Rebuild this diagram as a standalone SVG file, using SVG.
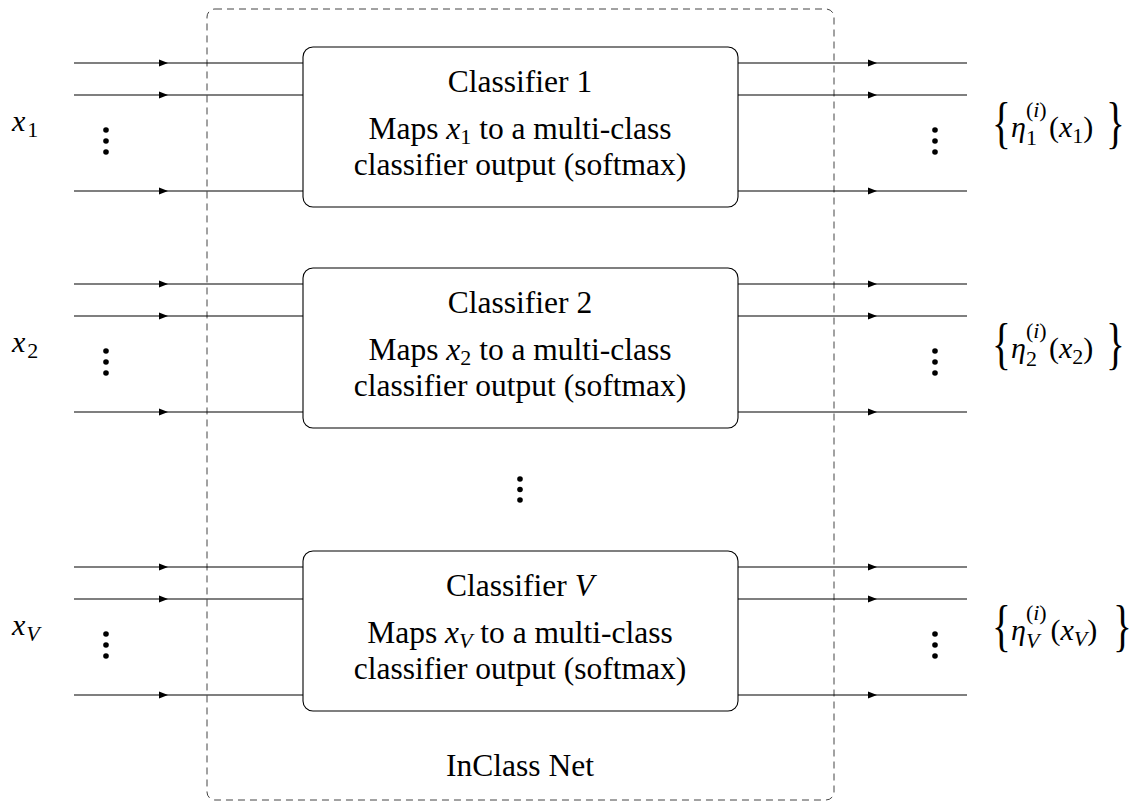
<svg xmlns="http://www.w3.org/2000/svg" xmlns:xlink="http://www.w3.org/1999/xlink" width="1136" height="805" viewBox="0 0 1136 805">
<defs>
<style>
.ln{fill:none;stroke:#000;stroke-width:1.1}
.box{fill:#fff;stroke:#000;stroke-width:1.1}
.dot{fill:#000}
.tx{font-family:"Liberation Serif","Times New Roman",serif;fill:#000}
.t{font-size:31.5px;text-anchor:middle}
.m{font-size:30px}
.s{font-size:22px}
.b{font-size:56px}
.i{font-style:italic}
</style>
<path id="ar" d="M-9,-3.5 L0,0 L-9,3.5 z" fill="#000"/>
</defs>
<rect width="1136" height="805" fill="#fff"/>
<g id="inclass-net">
<rect x="207" y="9" width="627" height="791" rx="8" ry="8" fill="none" stroke="#444" stroke-width="1" stroke-dasharray="7,5"/>
<text class="tx t" x="520" y="776">InClass Net</text>
</g>
<g id="connectors">
<path class="ln" d="M74,63 H303 M74,95 H303 M74,191 H303"/>
<path class="ln" d="M738,63 H967 M738,95 H967 M738,191 H967"/>
<path class="ln" d="M74,284 H303 M74,316 H303 M74,412 H303"/>
<path class="ln" d="M738,284 H967 M738,316 H967 M738,412 H967"/>
<path class="ln" d="M74,567 H303 M74,599 H303 M74,695 H303"/>
<path class="ln" d="M738,567 H967 M738,599 H967 M738,695 H967"/>
<use xlink:href="#ar" x="168" y="63"/><use xlink:href="#ar" x="168" y="95"/><use xlink:href="#ar" x="168" y="191"/>
<use xlink:href="#ar" x="877" y="63"/><use xlink:href="#ar" x="877" y="95"/><use xlink:href="#ar" x="877" y="191"/>
<use xlink:href="#ar" x="168" y="284"/><use xlink:href="#ar" x="168" y="316"/><use xlink:href="#ar" x="168" y="412"/>
<use xlink:href="#ar" x="877" y="284"/><use xlink:href="#ar" x="877" y="316"/><use xlink:href="#ar" x="877" y="412"/>
<use xlink:href="#ar" x="168" y="567"/><use xlink:href="#ar" x="168" y="599"/><use xlink:href="#ar" x="168" y="695"/>
<use xlink:href="#ar" x="877" y="567"/><use xlink:href="#ar" x="877" y="599"/><use xlink:href="#ar" x="877" y="695"/>
</g>
<g id="classifier-1">
<rect class="box" x="303" y="47" width="435" height="160" rx="10" ry="10"/>
<text class="tx t" x="520" y="92">Classifier 1</text>
<text class="tx t" x="520" y="139">Maps <tspan class="i">x</tspan><tspan class="s" dy="5">1</tspan><tspan dy="-5"> to a multi-class</tspan></text>
<text class="tx t" x="520" y="175">classifier output (softmax)</text>
</g>
<g id="classifier-2">
<rect class="box" x="303" y="268" width="435" height="160" rx="10" ry="10"/>
<text class="tx t" x="520" y="313">Classifier 2</text>
<text class="tx t" x="520" y="360">Maps <tspan class="i">x</tspan><tspan class="s" dy="5">2</tspan><tspan dy="-5"> to a multi-class</tspan></text>
<text class="tx t" x="520" y="396">classifier output (softmax)</text>
</g>
<g id="classifier-v">
<rect class="box" x="303" y="551" width="435" height="160" rx="10" ry="10"/>
<text class="tx t" x="520" y="596">Classifier <tspan class="i">V</tspan></text>
<text class="tx t" x="520" y="643">Maps <tspan class="i">x</tspan><tspan class="s i" dy="5">V</tspan><tspan dy="-5"> to a multi-class</tspan></text>
<text class="tx t" x="520" y="679">classifier output (softmax)</text>
</g>
<g id="input-labels">
<text class="tx m" x="12" y="131"><tspan class="i">x</tspan><tspan class="s" dx="2" dy="6">1</tspan></text>
<text class="tx m" x="12" y="352"><tspan class="i">x</tspan><tspan class="s" dx="2" dy="6">2</tspan></text>
<text class="tx m" x="12" y="635"><tspan class="i">x</tspan><tspan class="s i" dx="1" dy="6">V</tspan></text>
</g>
<g id="dots">
<circle class="dot" cx="106" cy="130" r="2.8"/><circle class="dot" cx="106" cy="141" r="2.8"/><circle class="dot" cx="106" cy="152" r="2.8"/>
<circle class="dot" cx="935" cy="130" r="2.8"/><circle class="dot" cx="935" cy="141" r="2.8"/><circle class="dot" cx="935" cy="152" r="2.8"/>
<circle class="dot" cx="106" cy="351" r="2.8"/><circle class="dot" cx="106" cy="362" r="2.8"/><circle class="dot" cx="106" cy="373" r="2.8"/>
<circle class="dot" cx="935" cy="351" r="2.8"/><circle class="dot" cx="935" cy="362" r="2.8"/><circle class="dot" cx="935" cy="373" r="2.8"/>
<circle class="dot" cx="520" cy="479" r="2.8"/><circle class="dot" cx="520" cy="489.5" r="2.8"/><circle class="dot" cx="520" cy="500" r="2.8"/>
<circle class="dot" cx="106" cy="634" r="2.8"/><circle class="dot" cx="106" cy="645" r="2.8"/><circle class="dot" cx="106" cy="656" r="2.8"/>
<circle class="dot" cx="935" cy="634" r="2.8"/><circle class="dot" cx="935" cy="645" r="2.8"/><circle class="dot" cx="935" cy="656" r="2.8"/>
</g>
<g id="output-1">
<text class="tx b" transform="translate(992,142) scale(0.7,1)">{</text>
<text class="tx m" x="1011" y="137"><tspan class="i">η</tspan><tspan class="s" dy="-20">(</tspan><tspan class="s i">i</tspan><tspan class="s">)</tspan><tspan class="s" dx="-20.7" dy="28">1</tspan><tspan dx="12" dy="-8">(</tspan><tspan class="i">x</tspan><tspan class="s" dy="6">1</tspan><tspan dy="-6">)</tspan></text>
<text class="tx b" transform="translate(1106,142) scale(0.7,1)">}</text>
</g>
<g id="output-2">
<text class="tx b" transform="translate(992,363) scale(0.7,1)">{</text>
<text class="tx m" x="1011" y="358"><tspan class="i">η</tspan><tspan class="s" dy="-20">(</tspan><tspan class="s i">i</tspan><tspan class="s">)</tspan><tspan class="s" dx="-20.7" dy="28">2</tspan><tspan dx="12" dy="-8">(</tspan><tspan class="i">x</tspan><tspan class="s" dy="6">2</tspan><tspan dy="-6">)</tspan></text>
<text class="tx b" transform="translate(1106,363) scale(0.7,1)">}</text>
</g>
<g id="output-v">
<text class="tx b" transform="translate(992,645) scale(0.7,1)">{</text>
<text class="tx m" x="1011" y="640"><tspan class="i">η</tspan><tspan class="s" dy="-20">(</tspan><tspan class="s i">i</tspan><tspan class="s">)</tspan><tspan class="s i" dx="-20.7" dy="28">V</tspan><tspan dx="11" dy="-8">(</tspan><tspan class="i">x</tspan><tspan class="s i" dy="6">V</tspan><tspan dy="-6">)</tspan></text>
<text class="tx b" transform="translate(1113,645) scale(0.7,1)">}</text>
</g>
</svg>
